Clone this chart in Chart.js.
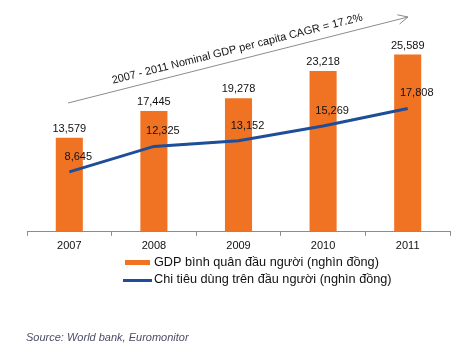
<!DOCTYPE html>
<html>
<head>
<meta charset="utf-8">
<script src="https://cdn.jsdelivr.net/npm/chart.js@4"></script>
<style>
  body { margin: 0; background: #fff; }
  #wrap { width: 473px; height: 360px; }
</style>
</head>
<body>
<div id="wrap"><canvas id="myChart"></canvas></div>
<script>
const years = ['2007', '2008', '2009', '2010', '2011'];
const gdpPerCapita = [13579, 17445, 19278, 23218, 25589];
const spendingPerCapita = [8645, 12325, 13152, 15269, 17808];
const gdpLabel = 'GDP bình quân đầu người (nghìn đồng)';
const spendLabel = 'Chi tiêu dùng trên đầu người (nghìn đồng)';
const cagrText = '2007 - 2011 Nominal GDP per capita CAGR = 17.2%';
const sourceText = 'Source: World bank, Euromonitor';

const FONT = '"Liberation Sans", Arial, sans-serif';
const fmt = v => v.toLocaleString('en-US');

// value labels, arrow, legend and source note
const extras = {
    id: 'extras',
    afterDatasetsDraw(chart) {
        const ctx = chart.ctx;
        ctx.save();
        ctx.font = '11px ' + FONT;
        ctx.fillStyle = '#111';
        ctx.textAlign = 'center';
        ctx.textBaseline = 'alphabetic';
        chart.getDatasetMeta(1).data.forEach((bar, i) => {
            ctx.fillText(fmt(gdpPerCapita[i]), bar.x, bar.y - 6);
        });
        chart.getDatasetMeta(0).data.forEach((pt, i) => {
            ctx.fillText(fmt(spendingPerCapita[i]), pt.x + 9, pt.y - 12);
        });

        // growth arrow
        const x1 = 68, y1 = 103, x2 = 408, y2 = 17;
        const ang = Math.atan2(y2 - y1, x2 - x1);
        ctx.strokeStyle = '#8c8c8c';
        ctx.lineWidth = 1;
        ctx.beginPath();
        ctx.moveTo(x1, y1);
        ctx.lineTo(x2, y2);
        ctx.moveTo(x2 - 11 * Math.cos(ang - 0.45), y2 - 11 * Math.sin(ang - 0.45));
        ctx.lineTo(x2, y2);
        ctx.lineTo(x2 - 11 * Math.cos(ang + 0.45), y2 - 11 * Math.sin(ang + 0.45));
        ctx.stroke();

        ctx.translate(238, 52);
        ctx.rotate(ang);
        ctx.font = '11px ' + FONT;
        ctx.fillStyle = '#111';
        ctx.fillText(cagrText, 0, 0);
        ctx.restore();

        // legend
        ctx.save();
        const bar = chart.data.datasets[1], line = chart.data.datasets[0];
        ctx.fillStyle = bar.backgroundColor;
        ctx.fillRect(125, 260, 25, 5);
        ctx.strokeStyle = line.borderColor;
        ctx.lineWidth = 3;
        ctx.beginPath();
        ctx.moveTo(123, 280.5);
        ctx.lineTo(152, 280.5);
        ctx.stroke();
        ctx.font = '12.7px ' + FONT;
        ctx.fillStyle = '#111';
        ctx.textAlign = 'left';
        ctx.textBaseline = 'middle';
        ctx.fillText(bar.label, 154, 262.5);
        ctx.fillText(line.label, 154, 279);

        ctx.font = 'italic 11px ' + FONT;
        ctx.fillStyle = '#4d4d66';
        ctx.fillText(sourceText, 26, 338);
        ctx.restore();
    }
};

new Chart(document.getElementById('myChart'), {
    type: 'bar',
    data: {
        labels: years,
        datasets: [{
            type: 'line',
            label: spendLabel,
            data: spendingPerCapita,
            borderColor: '#1f4e99',
            borderWidth: 3,
            pointRadius: 0,
            tension: 0,
            order: 0
        }, {
            label: gdpLabel,
            data: gdpPerCapita,
            backgroundColor: '#f07323',
            barPercentage: 0.32,
            categoryPercentage: 1,
            order: 1
        }]
    },
    plugins: [extras],
    options: {
        responsive: true,
        maintainAspectRatio: false,
        animation: false,
        layout: {
            padding: { left: 27, right: 23, top: 24, bottom: 103 }
        },
        plugins: {
            legend: { display: false },
            tooltip: { enabled: false }
        },
        scales: {
            x: {
                grid: {
                    drawOnChartArea: false,
                    color: '#8c8c8c',
                    tickLength: 4
                },
                border: { color: '#8c8c8c' },
                ticks: {
                    color: '#111',
                    padding: 4,
                    font: { family: FONT, size: 11 }
                }
            },
            y: {
                display: false,
                min: 0,
                max: 30000
            }
        }
    }
});
</script>
</body>
</html>
